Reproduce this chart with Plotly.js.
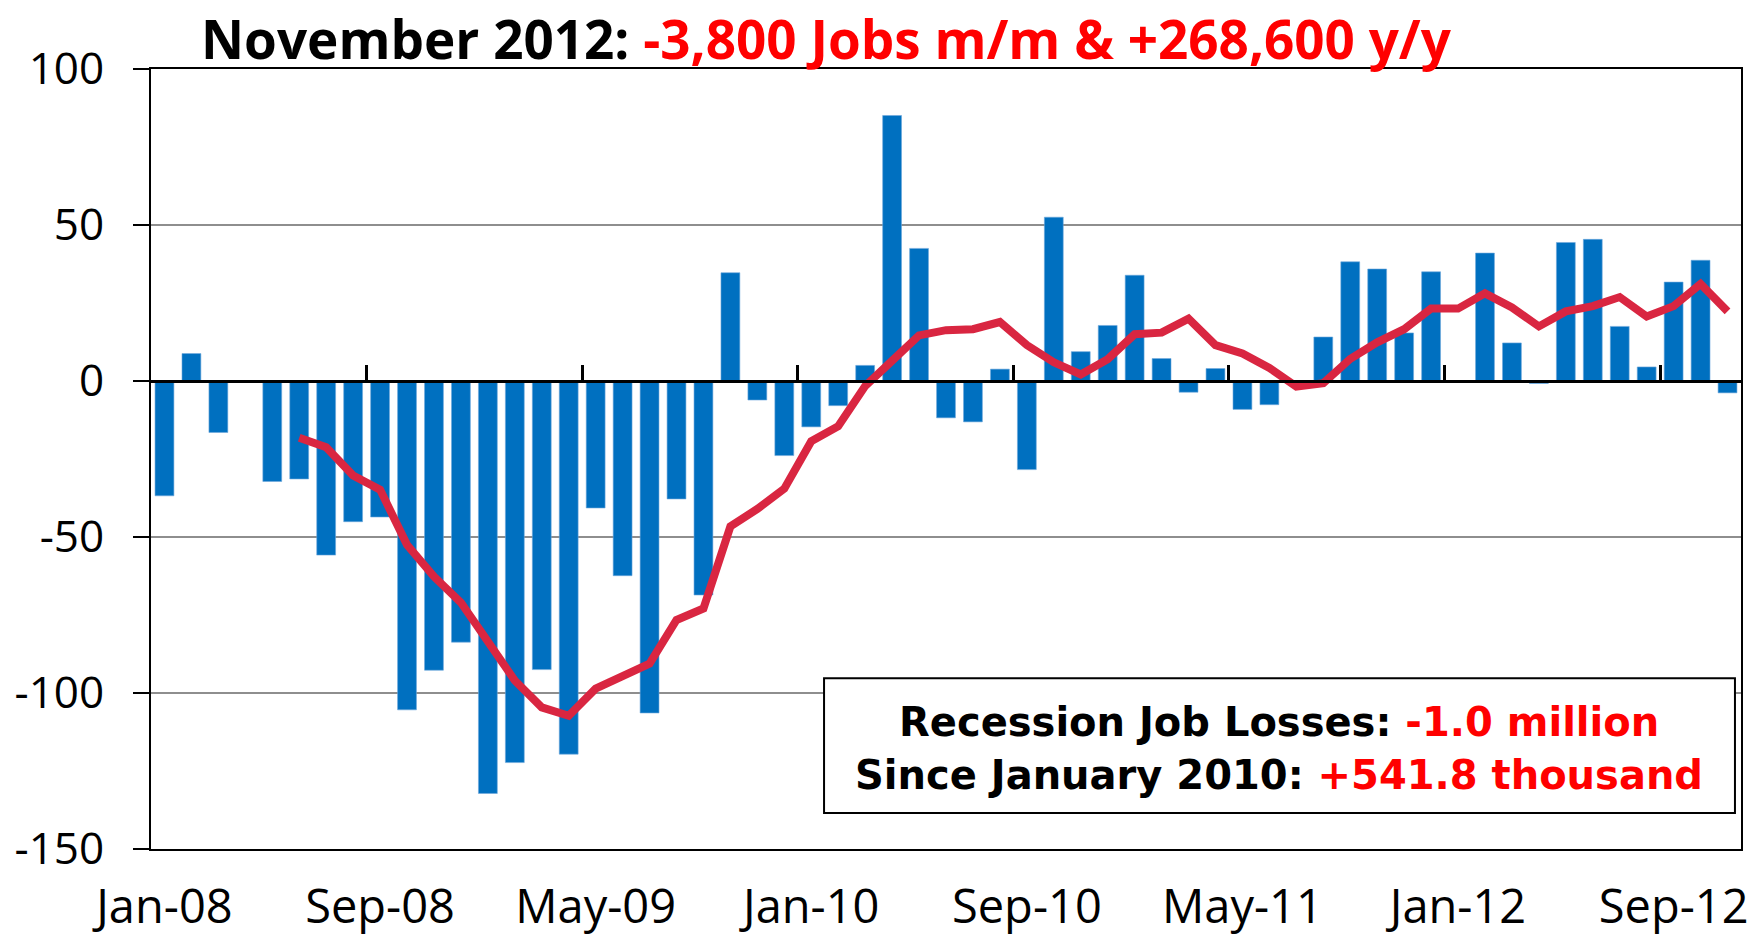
<!DOCTYPE html>
<html>
<head>
<meta charset="utf-8">
<script src="https://cdn.plot.ly/plotly-3.0.1.min.js"></script>
<style>
  html, body { margin: 0; padding: 0; background: #ffffff; }
  #chart { width: 1752px; height: 938px; }
</style>
</head>
<body>
<div id="chart"></div>
<script>
// Monthly categories, Jan-08 .. Nov-12
const months = [
  'Jan-08','Feb-08','Mar-08','Apr-08','May-08','Jun-08','Jul-08','Aug-08','Sep-08','Oct-08','Nov-08','Dec-08',
  'Jan-09','Feb-09','Mar-09','Apr-09','May-09','Jun-09','Jul-09','Aug-09','Sep-09','Oct-09','Nov-09','Dec-09',
  'Jan-10','Feb-10','Mar-10','Apr-10','May-10','Jun-10','Jul-10','Aug-10','Sep-10','Oct-10','Nov-10','Dec-10',
  'Jan-11','Feb-11','Mar-11','Apr-11','May-11','Jun-11','Jul-11','Aug-11','Sep-11','Oct-11','Nov-11','Dec-11',
  'Jan-12','Feb-12','Mar-12','Apr-12','May-12','Jun-12','Jul-12','Aug-12','Sep-12','Oct-12','Nov-12'
];

// Monthly job change (thousands)
const jobsChange = [
  -36.8, 8.8, -16.5, 0, -32.2, -31.4, -55.8, -45.1, -43.6, -105.4, -92.7, -83.7,
  -132.2, -122.3, -92.5, -119.6, -40.7, -62.4, -106.4, -37.8, -68.6, 34.7, -6.1, -23.9,
  -14.7, -7.9, 5.0, 85.1, 42.5, -11.8, -13.1, 3.8, -28.4, 52.5, 9.4, 17.8,
  33.9, 7.2, -3.6, 4.0, -9.1, -7.6, 0, 14.1, 38.2, 35.9, 15.4, 35.0,
  0, 41.0, 12.2, -0.8, 44.4, 45.4, 17.5, 4.5, 31.7, 38.7, -3.8
];

// Smoothed line (thousands)
const smoothed = [
  null, null, null, null, null, -18.2, -21.2, -30.3, -34.8, -52.5, -62.7, -71.0,
  -83.5, -96.0, -104.6, -107.3, -98.6, -94.7, -90.6, -76.6, -72.9, -46.6, -41.0, -34.5,
  -19.3, -14.5, -1.6, 6.5, 14.6, 16.3, 16.6, 18.9, 11.5, 6.0, 2.1, 7.0,
  15.0, 15.5, 20.0, 11.5, 8.8, 4.2, -1.8, -0.7, 7.1, 12.4, 16.6, 23.2,
  23.2, 28.1, 23.6, 17.5, 22.3, 24.0, 26.9, 20.7, 24.0, 31.1, 22.3
];

const tickLabels = ['Jan-08','Sep-08','May-09','Jan-10','Sep-10','May-11','Jan-12','Sep-12'];
const yTicks = [100, 50, 0, -50, -100, -150];

const xIdx = months.map((m, i) => i);
const tickPos = tickLabels.map(t => months.indexOf(t));
const boundaryPos = tickPos.map(p => p - 0.5);

const FONT = '"Open Sans", Lato, "DejaVu Sans", sans-serif';
const BOX_FONT = '"DejaVu Sans", "Open Sans", sans-serif';

const traces = [
  {
    type: 'bar',
    x: xIdx,
    y: jobsChange,
    width: 0.7,
    marker: { color: '#0070C0', line: { color: '#6FA8DC', width: 0.6 } },
    hoverinfo: 'x+y'
  },
  {
    type: 'scatter',
    mode: 'lines',
    x: xIdx,
    y: smoothed,
    line: { color: '#D92641', width: 8 },
    connectgaps: false,
    hoverinfo: 'x+y'
  },
  // invisible helper trace for the zero-crossing axis ticks
  {
    type: 'scatter', mode: 'markers', x: [0], y: [0], xaxis: 'x2',
    marker: { opacity: 0 }, hoverinfo: 'skip', showlegend: false
  }
];

const layout = {
  width: 1752,
  height: 938,
  margin: { l: 151, r: 11, t: 69, b: 89 },
  paper_bgcolor: '#ffffff',
  plot_bgcolor: '#ffffff',
  showlegend: false,
  bargap: 0.3,
  font: { family: FONT, color: '#000000' },
  title: {
    text: 'November 2012: <span style="color:#FF0000">-3,800 Jobs m/m &amp; +268,600 y/y</span>',
    font: { family: FONT, size: 53, color: '#000000', weight: 'bold' },
    xref: 'paper', x: 0.4245, xanchor: 'center',
    yref: 'container', y: 0.957, yanchor: 'middle'
  },
  xaxis: {
    range: [-0.5, 58.5],
    tickmode: 'array',
    tickvals: tickPos,
    ticktext: tickLabels,
    ticks: '',
    ticklabelstandoff: 16,
    tickfont: { family: FONT, size: 47, color: '#000000' },
    showgrid: false,
    zeroline: false,
    showline: true,
    linecolor: '#000000',
    linewidth: 2,
    mirror: true,
    fixedrange: true
  },
  xaxis2: {
    overlaying: 'x',
    matches: 'x',
    anchor: 'free',
    position: 0.6,
    side: 'bottom',
    tickmode: 'array',
    tickvals: boundaryPos,
    ticks: 'inside',
    ticklen: 15,
    tickwidth: 3,
    tickcolor: '#000000',
    showticklabels: false,
    showgrid: false,
    zeroline: false,
    showline: true,
    linecolor: '#000000',
    linewidth: 3,
    layer: 'above traces'
  },
  yaxis: {
    range: [-150, 100],
    tickmode: 'array',
    tickvals: yTicks,
    ticktext: yTicks.map(String),
    ticks: 'outside',
    ticklen: 16,
    tickwidth: 2,
    tickcolor: '#000000',
    ticklabelstandoff: 20,
    tickfont: { family: FONT, size: 44, color: '#000000' },
    showgrid: true,
    gridcolor: '#8E8E8E',
    gridwidth: 2,
    zeroline: false,
    showline: true,
    linecolor: '#000000',
    linewidth: 2,
    mirror: true,
    fixedrange: true
  },
  shapes: [
    {
      type: 'rect', xref: 'paper', yref: 'paper',
      x0: 0.4233, x1: 0.9962, y0: 0.0462, y1: 0.219,
      line: { color: '#000000', width: 2 },
      fillcolor: '#ffffff', layer: 'above'
    }
  ],
  annotations: [
    {
      xref: 'paper', yref: 'paper', x: 0.7097, y: 0.163, xanchor: 'center', yanchor: 'middle',
      text: 'Recession Job Losses: <span style="color:#FF0000">-1.0 million</span>',
      showarrow: false,
      font: { family: BOX_FONT, size: 40, color: '#000000', weight: 'bold' }
    },
    {
      xref: 'paper', yref: 'paper', x: 0.7097, y: 0.095, xanchor: 'center', yanchor: 'middle',
      text: 'Since January 2010: <span style="color:#FF0000">+541.8 thousand</span>',
      showarrow: false,
      font: { family: BOX_FONT, size: 40, color: '#000000', weight: 'bold' }
    }
  ]
};

Plotly.newPlot('chart', traces, layout, { displayModeBar: false, staticPlot: true });
</script>
</body>
</html>
